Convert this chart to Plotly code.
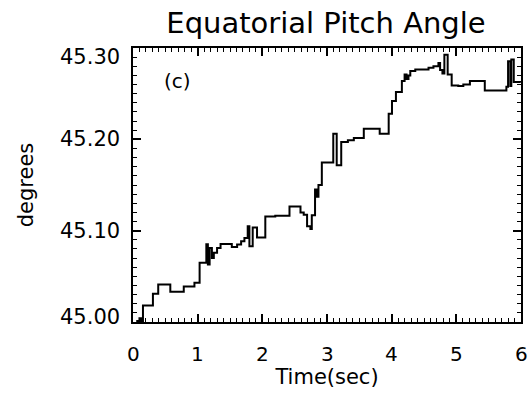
import plotly.graph_objects as go

# Step series (time in sec, pitch angle in degrees)
time_sec = [0.05, 0.10, 0.13, 0.154, 0.308, 0.39, 0.577, 0.785, 0.95, 1.03,
            1.134, 1.158, 1.185, 1.22, 1.25, 1.30, 1.354, 1.528, 1.61, 1.672,
            1.723, 1.774, 1.80, 1.851, 1.918, 2.046, 2.20, 2.42, 2.59, 2.64,
            2.692, 2.743, 2.765, 2.815, 2.838, 2.868, 2.92, 3.097, 3.15, 3.22,
            3.323, 3.415, 3.569, 3.815, 3.954, 4.005, 4.066, 4.158, 4.20, 4.23,
            4.26, 4.288, 4.365, 4.57, 4.646, 4.723, 4.749, 4.785, 4.815, 4.866,
            4.928, 5.03, 5.108, 5.21, 5.44, 5.774, 5.80, 5.835, 5.85, 5.888,
            5.985]
pitch_deg = [45.001, 45.004, 45.001, 45.018, 45.031, 45.041, 45.033, 45.039, 45.043, 45.065,
             45.085, 45.063, 45.081, 45.070, 45.0757, 45.081, 45.0855, 45.0822, 45.0848, 45.0884,
             45.092, 45.1047, 45.083, 45.1036, 45.0925, 45.1155, 45.1163, 45.1264, 45.120, 45.1174,
             45.1047, 45.1018, 45.117, 45.145, 45.137, 45.150, 45.1747, 45.206, 45.1717, 45.197,
             45.199, 45.2014, 45.2116, 45.206, 45.228, 45.242, 45.2518, 45.2638, 45.271, 45.266,
             45.270, 45.2747, 45.2764, 45.2783, 45.280, 45.2837, 45.276, 45.272, 45.2927, 45.271,
             45.259, 45.2583, 45.260, 45.2638, 45.2536, 45.2576, 45.2855, 45.2583, 45.2873, 45.2627,
             45.262]

x_ticks = [0, 1, 2, 3, 4, 5, 6]
x_ticktext = ["0", "1", "2", "3", "4", "5", "6"]
y_ticks = [45.00, 45.10, 45.20, 45.30]
y_ticktext = ["45.00", "45.10", "45.20", "45.30"]

FONT = "DejaVu Sans"

# plot area in pixels
L, R, T, B = 133, 523, 48, 322

fig = go.Figure()
fig.add_trace(go.Scatter(
    x=time_sec, y=pitch_deg, mode="lines",
    line=dict(color="black", width=2, shape="hv"),
    showlegend=False, hoverinfo="skip",
))

axis_common = dict(
    showgrid=False, zeroline=False, showticklabels=False,
    showline=True, linecolor="black", linewidth=2, mirror="allticks",
    ticks="inside", ticklen=8, tickwidth=2, tickcolor="black",
)

fig.update_xaxes(
    range=[0, 6], tick0=0, dtick=1,
    minor=dict(dtick=0.1, ticks="inside", ticklen=4, tickwidth=1, tickcolor="black"),
    title=dict(text="Time(sec)", font=dict(family=FONT, size=21, color="black"), standoff=46),
    **axis_common,
)
fig.update_yaxes(
    range=[45.0, 45.3], tick0=45.0, dtick=0.1,
    minor=dict(dtick=0.01, ticks="inside", ticklen=4, tickwidth=1, tickcolor="black"),
    title=dict(text="degrees", font=dict(family=FONT, size=21, color="black"), standoff=92),
    **axis_common,
)

# x tick labels
for val, txt in zip(x_ticks, x_ticktext):
    fig.add_annotation(
        x=val, xref="x", y=0, yref="paper", text=txt, showarrow=False,
        xanchor="center", yanchor="top", yshift=-18,
        font=dict(family=FONT, size=20, color="black"),
    )

# y tick labels (end labels nudged inward as in the reference)
label_shift = {"45.00": 5, "45.30": -9}
for val, txt in zip(y_ticks, y_ticktext):
    fig.add_annotation(
        x=0, xref="paper", y=val, yref="y", text=txt, showarrow=False,
        xanchor="right", yanchor="middle", xshift=-11, yshift=label_shift.get(txt, 0),
        font=dict(family=FONT, size=21, color="black"),
    )

fig.add_annotation(
    x=(178 - L) / (R - L), y=(B - 81) / (B - T), xref="paper", yref="paper",
    text="(c)", showarrow=False, xanchor="center", yanchor="middle",
    font=dict(family=FONT, size=20, color="black"),
)

fig.update_layout(
    width=530, height=396,
    margin=dict(l=L, r=530 - R, t=T, b=396 - B, pad=0),
    paper_bgcolor="white", plot_bgcolor="white",
    title=dict(text="Equatorial Pitch Angle", x=326 / 530, xanchor="center",
               y=1 - 23 / 396, yanchor="middle", yref="container",
               font=dict(family=FONT, size=29, color="black")),
)

fig.write_html("out.html")
